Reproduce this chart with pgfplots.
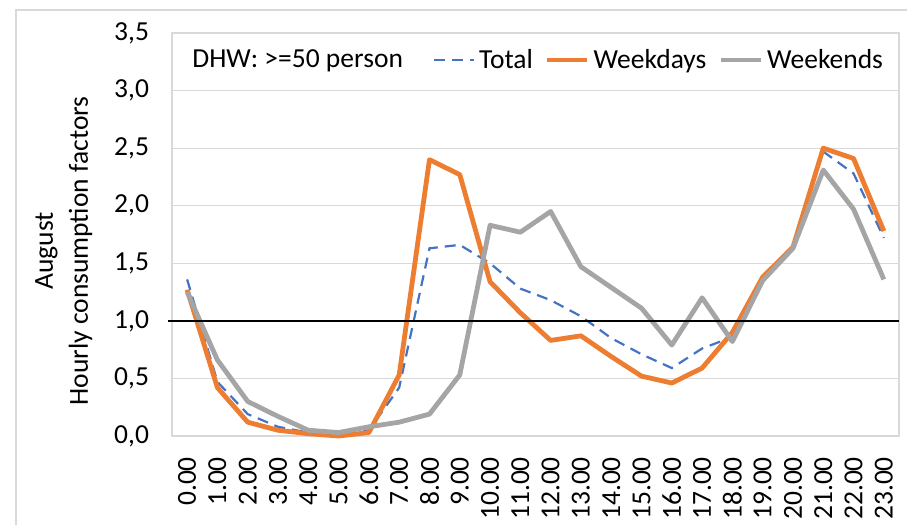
\documentclass[border=0pt]{standalone}
\usepackage{pgfplots}
\pgfplotsset{compat=1.18}
\usepackage{fontspec}
\setmainfont{Carlito}
\definecolor{xlblue}{HTML}{4472C4}
\definecolor{xlorange}{HTML}{ED7D31}
\definecolor{xlgray}{HTML}{A5A5A5}
\definecolor{gridgray}{HTML}{D9D9D9}
\begin{document}
\begin{tikzpicture}
\useasboundingbox (-86pt,-44.5pt) rectangle (367.5pt,218pt);
\draw[gridgray, line width=0.6pt] (-78pt,-44.5pt) -- (-78pt,213pt) -- (367.5pt,213pt);
\begin{axis}[
  at={(0pt,0pt)}, anchor=south west,
  scale only axis, width=363.5pt, height=201.5pt,
  xmin=-0.5, xmax=23.5, ymin=0, ymax=3.5,
  xtick={0,1,...,23},
  xticklabels={0.00,1.00,2.00,3.00,4.00,5.00,6.00,7.00,8.00,9.00,10.00,11.00,12.00,13.00,14.00,15.00,16.00,17.00,18.00,19.00,20.00,21.00,22.00,23.00},
  ytick={0,0.5,...,3.5},
  yticklabel={\pgfmathprintnumber[fixed,fixed zerofill,precision=1,use comma]{\tick}},
  /pgf/number format/assume math mode=true,
  tick style={draw=none},
  axis line style={gridgray, line width=0.6pt},
  ymajorgrids, grid style={gridgray, line width=0.6pt},
  font=\fontsize{13.75}{17.5}\selectfont,
  ticklabel style={font=\fontsize{13.75}{16}\selectfont},
  xticklabel style={rotate=90, anchor=east, xshift=-7pt},
  yticklabel style={xshift=-8pt},
  ylabel={August\\Hourly consumption factors},
  ylabel style={at={(axis description cs:-0.149,0.459)}, anchor=center, align=center, rotate=0},
  clip=false,
  legend columns=4,
  legend style={draw=none, fill=white, at={(axis description cs:0.022,0.933)}, anchor=west,
    font=\fontsize{13.75}{16}\selectfont,
    /tikz/every even column/.append style={column sep=4pt},
    inner sep=0pt},
  legend cell align=left,
  legend image code/.code={\draw[#1] (0pt,0pt) -- (20pt,0pt);},
]
\addlegendimage{empty legend}
\addlegendentry{DHW: >=50 person\hspace*{9pt}}
\addplot[xlblue, line width=1.1pt, dash pattern=on 5.5pt off 3.5pt] coordinates {
(0,1.36) (1,0.47) (2,0.19) (3,0.08) (4,0.03) (5,0.01) (6,0.05) (7,0.42) (8,1.63) (9,1.66) (10,1.50) (11,1.28) (12,1.18) (13,1.04) (14,0.85) (15,0.71) (16,0.59) (17,0.76) (18,0.86) (19,1.37) (20,1.63) (21,2.47) (22,2.28) (23,1.72)};
\addlegendentry{Total}
\addplot[xlorange, line width=2.4pt, line join=round] coordinates {
(0,1.27) (1,0.42) (2,0.12) (3,0.05) (4,0.02) (5,0.00) (6,0.03) (7,0.53) (8,2.40) (9,2.27) (10,1.34) (11,1.07) (12,0.83) (13,0.87) (14,0.69) (15,0.52) (16,0.46) (17,0.59) (18,0.90) (19,1.38) (20,1.64) (21,2.50) (22,2.41) (23,1.78)};
\addlegendentry{Weekdays}
\addplot[xlgray, line width=2.4pt, line join=round] coordinates {
(0,1.25) (1,0.66) (2,0.30) (3,0.17) (4,0.05) (5,0.03) (6,0.08) (7,0.12) (8,0.19) (9,0.53) (10,1.83) (11,1.77) (12,1.95) (13,1.47) (14,1.29) (15,1.11) (16,0.79) (17,1.20) (18,0.82) (19,1.35) (20,1.63) (21,2.31) (22,1.97) (23,1.36)};
\addlegendentry{Weekends}
\addplot[black, line width=1.3pt, forget plot] coordinates {(-0.63,1) (23.5,1)};
\end{axis}
\end{tikzpicture}
\end{document}
